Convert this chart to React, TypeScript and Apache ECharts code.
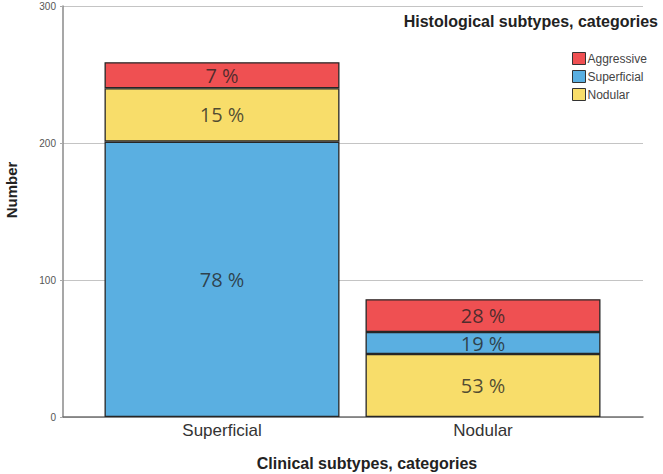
import React, { useEffect, useRef } from "react";
import * as echarts from "echarts";

const categories = ["Superficial", "Nodular"];
const aggressive = [19, 24];
const superficial = [201, 16];
const nodular = [39, 46];
// where the "Superficial" segment sits in each bar's stack
const superficialPlace = ["bottom", "middle"];
const aggressivePct = ["7 %", "28 %"];
const superficialPct = ["78 %", "19 %"];
const nodularPct = ["15 %", "53 %"];
const yTicks = [0, 100, 200, 300];
const legendNames = ["Aggressive", "Superficial", "Nodular"];

const RED = "#EF5052";
const BLUE = "#5AAFE1";
const YELLOW = "#F8DD6A";
const FONT = "Liberation Sans";

export default function App() {
  const ref = useRef<HTMLDivElement>(null);
  useEffect(() => {
    document.body.style.margin = "0";
    document.body.style.overflow = "hidden";
    if (!ref.current) return;
    const chart = echarts.init(ref.current, undefined, { renderer: "svg" });
    const label = (pcts: string[]) => ({
      show: true,
      position: "inside",
      fontFamily: "Open Sans",
      fontSize: 20,
      color: "rgba(35,35,35,0.78)",
      formatter: (p: any) => pcts[p.dataIndex],
    });
    const item = (c: string) => ({ color: c, borderColor: "#262626", borderWidth: 1.3 });
    const supBottom = superficial.map((v, i) => (superficialPlace[i] === "bottom" ? v : "-"));
    const supMiddle = superficial.map((v, i) => (superficialPlace[i] === "middle" ? v : "-"));
    const common = {
      type: "bar",
      stack: "total",
      xAxisIndex: 1,
      yAxisIndex: 1,
      barWidth: 235,
    };
    chart.setOption({
      animation: false,
      grid: [
        { left: 63, right: 20, top: 6, bottom: 57 },
        { left: 91.5, right: 49.5, top: 6, bottom: 57 },
      ],
      xAxis: [
        {
          gridIndex: 0,
          type: "category",
          data: [""],
          axisLine: { show: true, lineStyle: { color: "#6f6f6f", width: 1.5 } },
          axisTick: { show: false },
          axisLabel: { show: false },
        },
        {
          gridIndex: 1,
          type: "category",
          data: categories,
          axisLine: { show: false },
          axisTick: { show: false },
          axisLabel: { fontFamily: FONT, fontSize: 17, color: "#333", margin: 5 },
        },
      ],
      yAxis: [
        {
          gridIndex: 0,
          type: "value",
          min: yTicks[0],
          max: yTicks[yTicks.length - 1],
          interval: 100,
          axisLine: { show: true, lineStyle: { color: "#8a8a8a", width: 1.5 } },
          axisTick: { show: true, length: 3, lineStyle: { color: "#aaa" } },
          axisLabel: { fontFamily: FONT, fontSize: 10, color: "#555", margin: 7 },
          splitLine: { show: true, lineStyle: { color: "#c4c4c4", width: 1.2 } },
        },
        {
          gridIndex: 1,
          type: "value",
          min: yTicks[0],
          max: yTicks[yTicks.length - 1],
          show: false,
          splitLine: { show: false },
        },
      ],
      legend: {
        data: legendNames,
        orient: "vertical",
        left: 567,
        top: 47,
        itemWidth: 13,
        itemHeight: 12,
        itemGap: 5,
        icon: "rect",
        selectedMode: false,
        textStyle: { fontFamily: FONT, fontSize: 12, color: "#444", padding: [0, 0, 0, -3] },
        itemStyle: { borderColor: "#333", borderWidth: 1 },
      },
      graphic: [
        {
          type: "text",
          x: 658,
          y: 21,
          style: {
            text: "Histological subtypes, categories",
            fontFamily: FONT,
            fontWeight: "bold",
            fontSize: 16,
            fill: "#222",
            align: "right",
            verticalAlign: "middle",
          },
        },
        {
          type: "text",
          x: 367,
          y: 463,
          style: {
            text: "Clinical subtypes, categories",
            fontFamily: FONT,
            fontWeight: "bold",
            fontSize: 16,
            fill: "#222",
            align: "center",
            verticalAlign: "middle",
          },
        },
        {
          type: "text",
          x: 11,
          y: 190,
          rotation: Math.PI / 2,
          style: {
            text: "Number",
            fontFamily: FONT,
            fontWeight: "bold",
            fontSize: 15,
            fill: "#222",
            align: "center",
            verticalAlign: "middle",
          },
        },
      ],
      series: [
        { ...common, name: "Superficial", data: supBottom, itemStyle: item(BLUE), label: label(superficialPct) },
        { ...common, name: "Nodular", data: nodular, itemStyle: item(YELLOW), label: label(nodularPct) },
        { ...common, name: "Superficial", data: supMiddle, itemStyle: item(BLUE), label: label(superficialPct) },
        { ...common, name: "Aggressive", data: aggressive, itemStyle: item(RED), label: label(aggressivePct) },
      ],
    });
    return () => chart.dispose();
  }, []);
  return (
    <div
      ref={ref}
      style={{ position: "absolute", left: 0, top: 0, width: 663, height: 474 }}
    />
  );
}
